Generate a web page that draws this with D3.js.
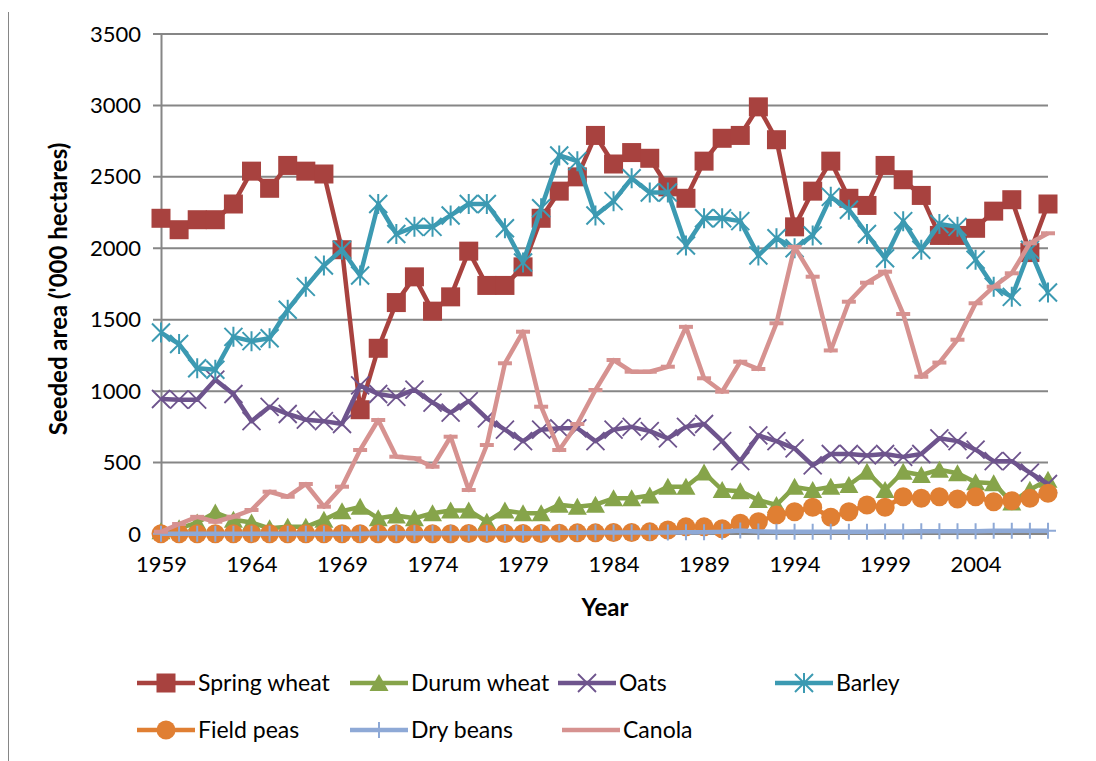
<!DOCTYPE html>
<html>
<head>
<meta charset="utf-8">
<script src="https://cdn.jsdelivr.net/npm/d3@7"></script>
<style>
  body { margin: 0; background: #fff; }
  text { font-family: Lato, 'Open Sans', sans-serif; fill: #000; }
</style>
</head>
<body>
<svg id="chart" width="1096" height="761"></svg>
<script>
let years = d3.range(1959, 2009)
let xTickYears = [1959, 1964, 1969, 1974, 1979, 1984, 1989, 1994, 1999, 2004]
let yTicks = [0, 500, 1000, 1500, 2000, 2500, 3000, 3500]

let springWheat = [2210, 2130, 2200, 2200, 2310, 2540, 2420, 2580, 2540, 2520,
  1990, 870, 1300, 1620, 1800, 1560, 1660, 1980, 1740, 1740,
  1870, 2210, 2400, 2500, 2790, 2590, 2670, 2630, 2430, 2350,
  2610, 2770, 2790, 2990, 2760, 2150, 2400, 2610, 2350, 2300,
  2580, 2480, 2370, 2090, 2090, 2140, 2260, 2340, 1970, 2310]
let durumWheat = [20, 40, 80, 150, 100, 80, 40, 50, 50, 100,
  160, 190, 110, 130, 110, 145, 165, 165, 86, 165,
  145, 145, 205, 190, 205, 250, 250, 270, 330, 330,
  430, 308, 300, 238, 203, 330, 308, 330, 343, 436,
  308, 436, 413, 450, 425, 362, 355, 220, 310, 380]
let oats = [945, 940, 940, 1080, 980, 790, 890, 840, 800, 790,
  770, 1040, 980, 960, 1010, 920, 850, 930, 810, 730,
  650, 730, 740, 740, 650, 730, 750, 720, 670, 750,
  770, 650, 510, 690, 650, 600, 480, 560, 560, 550,
  560, 540, 560, 670, 650, 590, 510, 510, 430, 350]
let barley = [1410, 1330, 1160, 1150, 1380, 1350, 1370, 1570, 1730, 1880,
  1990, 1810, 2310, 2100, 2150, 2150, 2230, 2310, 2310, 2140,
  1900, 2280, 2650, 2610, 2230, 2330, 2490, 2390, 2390, 2020,
  2210, 2210, 2190, 1950, 2070, 2000, 2090, 2360, 2270, 2100,
  1930, 2190, 1990, 2170, 2150, 1920, 1730, 1660, 1990, 1690]
let fieldPeas = [2, 2, 2, 2, 2, 2, 2, 2, 2, 2,
  2, 2, 2, 2, 2, 2, 2, 4, 4, 4,
  4, 4, 6, 8, 8, 10, 10, 15, 28, 50,
  50, 37, 75, 86, 133, 156, 187, 117, 156, 203,
  187, 261, 250, 261, 245, 261, 226, 233, 250, 285]
let dryBeans = [2, 2, 2, 2, 2, 2, 2, 2, 2, 2,
  2, 2, 5, 5, 5, 5, 5, 5, 5, 5,
  5, 5, 8, 8, 10, 10, 10, 10, 10, 12,
  12, 15, 25, 18, 16, 16, 16, 16, 16, 16,
  18, 18, 20, 20, 20, 20, 22, 22, 22, 22]
let canola = [16, 70, 120, 86, 121, 168, 296, 261, 350, 191,
  331, 588, 798, 541, 530, 471, 681, 308, 623, 1195,
  1416, 891, 588, 770, 1008, 1218, 1136, 1136, 1171, 1450,
  1090, 996, 1206, 1155, 1475, 2010, 1801, 1285, 1626, 1759,
  1836, 1540, 1101, 1200, 1360, 1615, 1731, 1825, 2035, 2105]

let series = [
  { name: 'Spring wheat', values: springWheat, color: '#A8423F', marker: 'square' },
  { name: 'Durum wheat', values: durumWheat, color: '#86A44A', marker: 'triangle' },
  { name: 'Oats', values: oats, color: '#6E548D', marker: 'x' },
  { name: 'Barley', values: barley, color: '#3C9AB2', marker: 'star' },
  { name: 'Field peas', values: fieldPeas, color: '#E07F33', marker: 'circle' },
  { name: 'Dry beans', values: dryBeans, color: '#8EA9D6', marker: 'plus' },
  { name: 'Canola', values: canola, color: '#D69290', marker: 'dash' }
]

let margin = { top: 34, left: 161, right: 48, bottom: 227 }
let width = 1096 - margin.left - margin.right
let height = 761 - margin.top - margin.bottom

let svg = d3.select('#chart')

// chart border
svg.append('line')
  .attr('x1', 8.5).attr('x2', 8.5).attr('y1', 12).attr('y2', 761)
  .attr('stroke', '#868686').attr('stroke-width', 1)

let holder = svg.append('g')
  .attr('transform', `translate(${margin.left},${margin.top})`)

let xScale = d3.scalePoint()
  .domain(years)
  .range([0, width])

let yScale = d3.scaleLinear()
  .domain([0, 3500])
  .range([height, 0])

// gridlines
holder.selectAll('.grid')
  .data(yTicks)
  .enter().append('line')
  .attr('x1', -8).attr('x2', width)
  .attr('y1', d => yScale(d)).attr('y2', d => yScale(d))
  .attr('stroke', '#868686').attr('stroke-width', 2)

let yAxis = d3.axisLeft(yScale).tickValues(yTicks).tickFormat(d3.format('d'))
  .tickSize(0).tickPadding(20)
holder.append('g').call(yAxis)
  .call(g => g.select('.domain').attr('stroke', '#868686').attr('stroke-width', 2))
  .call(g => g.selectAll('text').attr('font-size', 22).style('font-family', 'Lato, sans-serif'))

let xAxis = d3.axisBottom(xScale).tickValues(xTickYears).tickSize(0).tickPadding(22)
holder.append('g')
  .attr('transform', `translate(0,${height})`)
  .call(xAxis)
  .call(g => g.select('.domain').remove())
  .call(g => g.selectAll('text').attr('font-size', 22).style('font-family', 'Lato, sans-serif'))

holder.append('text')
  .text('Year')
  .attr('x', 444).attr('y', height + 82)
  .attr('text-anchor', 'middle')
  .attr('font-size', 24).attr('font-weight', 'bold')

holder.append('text')
  .text("Seeded area ('000 hectares)")
  .attr('transform', `translate(-94,${height / 2 + 5}) rotate(-90)`)
  .attr('text-anchor', 'middle')
  .attr('font-size', 24).attr('font-weight', 'bold')

function drawMarker(g, type, color) {
  if (type === 'square') {
    g.append('rect').attr('x', -9.5).attr('y', -9.5).attr('width', 19).attr('height', 19)
      .attr('fill', color)
  } else if (type === 'triangle') {
    g.append('path').attr('d', 'M0,-9L9.5,8L-9.5,8Z').attr('fill', color)
  } else if (type === 'circle') {
    g.append('circle').attr('r', 9.5).attr('fill', color)
  } else if (type === 'x') {
    g.append('path').attr('d', 'M-9,-9L9,9M-9,9L9,-9')
      .attr('stroke', color).attr('stroke-width', 1.8).attr('fill', 'none')
  } else if (type === 'star') {
    g.append('path').attr('d', 'M-9,-9L9,9M-9,9L9,-9M0,-10L0,10')
      .attr('stroke', color).attr('stroke-width', 2).attr('fill', 'none')
  } else if (type === 'plus') {
    g.append('path').attr('d', 'M-8,0L8,0M0,-8L0,8')
      .attr('stroke', color).attr('stroke-width', 2).attr('fill', 'none')
  } else if (type === 'dash') {
    g.append('path').attr('d', 'M-7,0L7,0')
      .attr('stroke', color).attr('stroke-width', 4).attr('fill', 'none')
  }
}

let line = d3.line()
  .x((d, i) => xScale(years[i]))
  .y(d => yScale(d))

series.forEach(s => {
  let g = holder.append('g')
  g.append('path')
    .datum(s.values)
    .attr('d', line)
    .attr('fill', 'none')
    .attr('stroke', s.color)
    .attr('stroke-width', 4.5)
    .attr('stroke-linejoin', 'round')
  g.selectAll('.marker')
    .data(s.values)
    .enter().append('g')
    .attr('transform', (d, i) => `translate(${xScale(years[i])},${yScale(d)})`)
    .each(function() { drawMarker(d3.select(this), s.marker, s.color) })
})

// legend
let legendPos = [
  [137, 683], [350, 683], [558, 683], [775, 683],
  [137, 730], [350, 730], [562, 730]
]
let legend = svg.selectAll('.legend')
  .data(series)
  .enter().append('g')
  .attr('transform', (d, i) => `translate(${legendPos[i][0]},${legendPos[i][1]})`)

legend.append('line')
  .attr('x1', 0).attr('x2', 58)
  .attr('stroke', d => d.color).attr('stroke-width', 4.5)
legend.append('g')
  .attr('transform', 'translate(29,0)')
  .each(function(d) { drawMarker(d3.select(this), d.marker, d.color) })
legend.append('text')
  .text(d => d.name)
  .attr('x', 61)
  .attr('dy', '0.35em')
  .attr('font-size', 23)
</script>
</body>
</html>
